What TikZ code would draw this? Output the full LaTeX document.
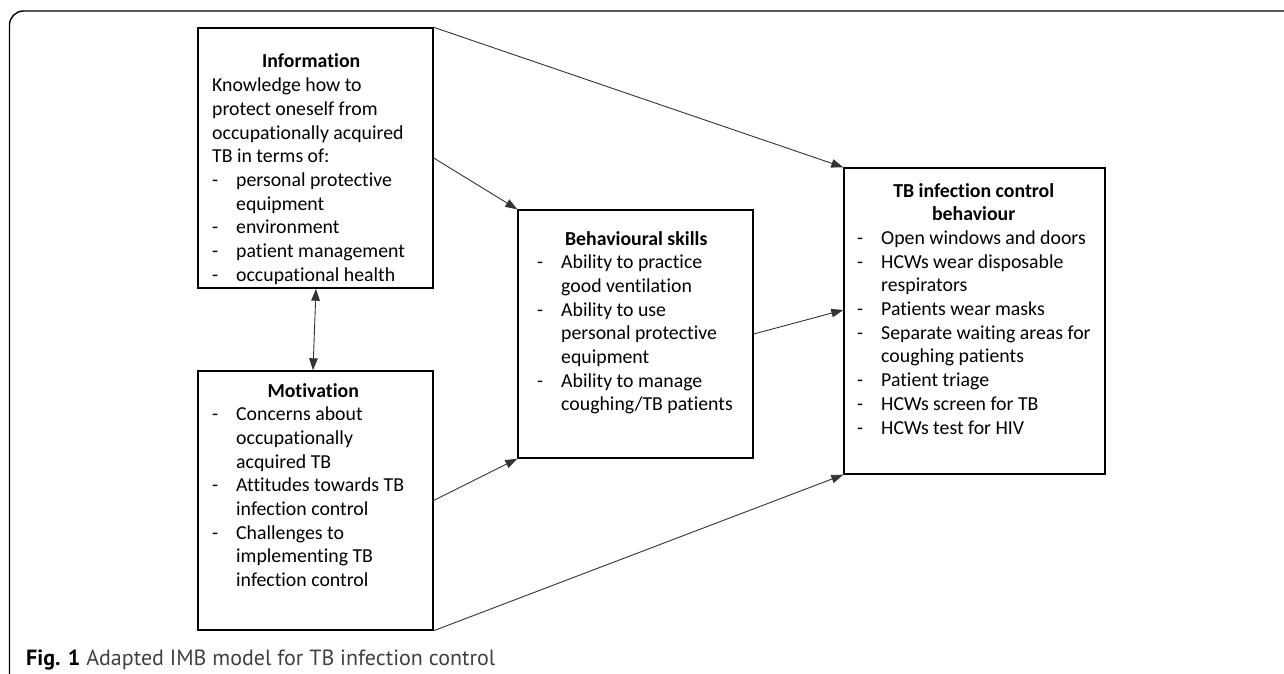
\documentclass[tikz,border=0pt]{standalone}
\usepackage{fontspec}
\setmainfont{Carlito}[Ligatures=NoCommon]
\newfontfamily\capfont{PT Sans}
\usetikzlibrary{arrows.meta,calc}
\tikzset{
  box/.style={draw=black, line width=1.4pt, rectangle, inner sep=0pt},
  boxtext/.style={anchor=base west, inner sep=0pt, font=\fontsize{19.8}{23.7}\selectfont},
  conn/.style={draw=black!80, line width=0.9pt, -{Triangle[length=12pt,width=8.5pt]}},
  biconn/.style={draw=black!80, line width=0.9pt, {Triangle[length=12pt,width=8.5pt]}-{Triangle[length=12pt,width=8.5pt]}}
}
\newcommand{\ttl}[2]{\multicolumn{2}{@{}l@{}}{\makebox[0pt][l]{\makebox[#1][c]{\textbf{#2}}}}}
\newcommand{\pl}[1]{\multicolumn{2}{@{}l@{}}{#1}}
\begin{document}
\begin{tikzpicture}[x=1pt,y=-1pt]
\useasboundingbox (0,0) rectangle (1284,674);
% outer frame
\draw[line width=1.4pt, rounded corners=14pt] (9.5,680) -- (9.5,11) -- (1290,11);
% boxes
\node[box, minimum width=235pt, minimum height=260pt] (info) at (315.5,158) {};
\node[box, minimum width=235pt, minimum height=259pt] (mot) at (315.5,500.5) {};
\node[box, minimum width=235pt, minimum height=248pt] (beh) at (635.5,334) {};
\node[box, minimum width=261pt, minimum height=306pt] (tb) at (974.5,321) {};
% texts
\node[boxtext] (infot) at (212,68) {\begin{tabular}[t]{@{}p{24pt}@{}l@{}}
\ttl{198pt}{Information}\\
\pl{Knowledge how to}\\
\pl{protect oneself from}\\
\pl{occupationally acquired}\\
\pl{TB in terms of:}\\
- & personal protective\\
  & equipment\\
- & environment\\
- & patient management\\
- & occupational health
\end{tabular}};
\node[boxtext] (mott) at (212,397) {\begin{tabular}[t]{@{}p{24pt}@{}l@{}}
\ttl{202pt}{Motivation}\\
- & Concerns about\\
  & occupationally\\
  & acquired TB\\
- & Attitudes towards TB\\
  & infection control\\
- & Challenges to\\
  & implementing TB\\
  & infection control
\end{tabular}};
\node[boxtext] (beht) at (537,245) {\begin{tabular}[t]{@{}p{24pt}@{}l@{}}
\ttl{198pt}{Behavioural skills}\\
- & Ability to practice\\
  & good ventilation\\
- & Ability to use\\
  & personal protective\\
  & equipment\\
- & Ability to manage\\
  & coughing/TB patients
\end{tabular}};
\node[boxtext] (tbt) at (857,197) {\begin{tabular}[t]{@{}p{24pt}@{}l@{}}
\ttl{233pt}{TB infection control}\\
\ttl{233pt}{behaviour}\\
- & Open windows and doors\\
- & HCWs wear disposable\\
  & respirators\\
- & Patients wear masks\\
- & Separate waiting areas for\\
  & coughing patients\\
- & Patient triage\\
- & HCWs screen for TB\\
- & HCWs test for HIV
\end{tabular}};
% connectors
\draw[conn] (info.north east) -- (tb.north west);
\draw[conn] (info.east) -- (beh.north west);
\draw[conn] (beh.east) -- ($(tb.west)+(0,-11)$);
\draw[conn] (mot.east) -- (beh.south west);
\draw[conn] (mot.south east) -- (tb.south west);
\draw[biconn] ($(info.south)+(0.5,0)$) -- ($(mot.north)+(-2.5,0)$);
% caption
\node[anchor=base west, inner sep=0pt, font=\capfont\fontsize{22}{26}\selectfont] (cap) at (26,665) {\textbf{Fig. 1} {\color{black!75}Adapted IMB model for TB infection control}};
\end{tikzpicture}
\end{document}
